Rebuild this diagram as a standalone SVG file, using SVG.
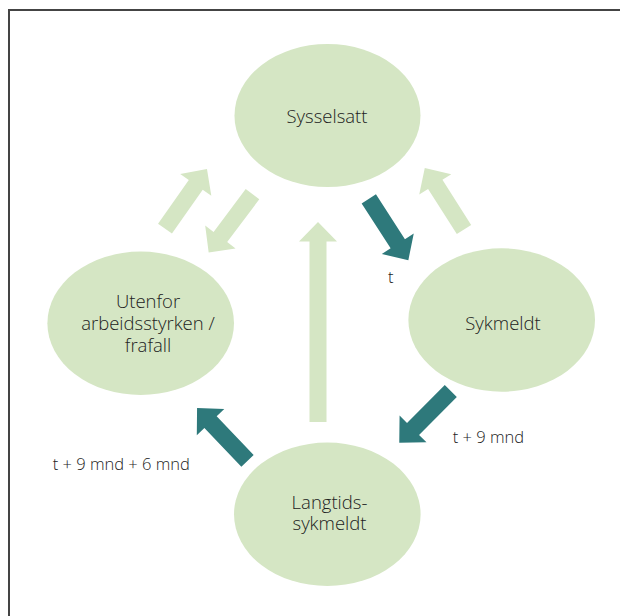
<svg xmlns="http://www.w3.org/2000/svg" width="620" height="616" viewBox="0 0 620 616">
<style>
.node{fill:#d5e6c4}
.lbl{font-family:"Open Sans","Liberation Sans",sans-serif;font-weight:300;font-size:18.5px;fill:#222;text-anchor:middle}
.tl{font-family:"Open Sans","Liberation Sans",sans-serif;font-weight:300;font-size:16.5px;fill:#222}
.la{fill:#d5e6c4}
.da{fill:#2e797b}
.frame{stroke:#444;stroke-width:2;fill:none}
</style>
<defs>
<polygon id="ar73" points="0,-8.5 53.5,-8.5 53.5,-19 73,0 53.5,19 53.5,8.5 0,8.5"/>
</defs>
<rect width="620" height="616" fill="#fff"/>
<path class="frame" d="M9,616 V10 H620"/>
<g id="connectors">
<use href="#ar73" class="la" transform="translate(165,228.7) rotate(-54.9)"/>
<use href="#ar73" class="la" transform="translate(252.5,194.2) rotate(126.9)"/>
<polygon class="la" transform="translate(318,422) rotate(-90)" points="0,-8.5 180.5,-8.5 180.5,-19 200,0 180.5,19 180.5,8.5 0,8.5"/>
<use href="#ar73" class="la" transform="translate(464,229.5) rotate(-122.5)"/>
<use href="#ar73" class="da" transform="translate(368.8,198.8) rotate(57.2)"/>
<use href="#ar73" class="da" transform="translate(450.8,391) rotate(134.9)"/>
<use href="#ar73" class="da" transform="translate(247.5,460.8) rotate(-133.7)"/>
<text class="tl" x="390.7" y="283.3" text-anchor="middle">t</text>
<text class="tl" x="452.7" y="443.3">t + 9 mnd</text>
<text class="tl" x="52.7" y="470">t + 9 mnd + 6 mnd</text>
</g>
<g id="sysselsatt">
<ellipse class="node" cx="327.5" cy="115.5" rx="93" ry="71.5"/>
<text class="lbl" x="327" y="122.7">Sysselsatt</text>
</g>
<g id="sykmeldt">
<ellipse class="node" cx="501.7" cy="320" rx="93.3" ry="71.7"/>
<text class="lbl" x="503" y="330">Sykmeldt</text>
</g>
<g id="utenfor">
<ellipse class="node" cx="140.7" cy="323.3" rx="93.3" ry="71.7"/>
<text class="lbl" x="148" y="308.3">Utenfor</text>
<text class="lbl" x="148" y="330.3">arbeidsstyrken /</text>
<text class="lbl" x="148" y="352.3">frafall</text>
</g>
<g id="langtids">
<ellipse class="node" cx="327.3" cy="514.3" rx="93.3" ry="71.7"/>
<text class="lbl" x="329.5" y="508.5">Langtids-</text>
<text class="lbl" x="329.5" y="529.5">sykmeldt</text>
</g>
</svg>
